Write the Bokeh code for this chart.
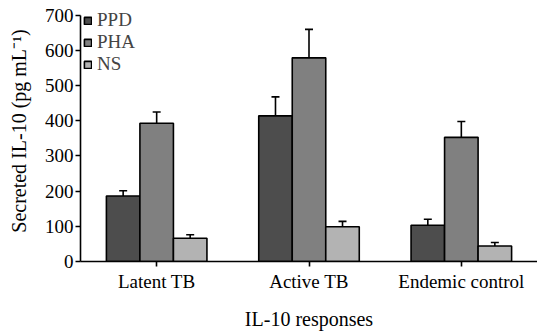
from bokeh.plotting import figure
from bokeh.models import ColumnDataSource, FactorRange, Whisker, TeeHead, Legend, LegendItem
from bokeh.transform import dodge
from bokeh.embed import file_html
from bokeh.resources import INLINE

groups = ["Latent TB", "Active TB", "Endemic control"]
series = ["PPD", "PHA", "NS"]
ppd = [186, 414, 103]
ppd_err = [15, 54, 17]
pha = [393, 579, 353]
pha_err = [32, 81, 45]
ns = [66, 99, 44]
ns_err = [10, 15, 10]
colors = ["#4d4d4d", "#808080", "#b3b3b3"]
y_ticks = [0, 100, 200, 300, 400, 500, 600, 700]

FONT = "Liberation Serif"

p = figure(width=537, height=332, x_range=FactorRange(factors=groups, range_padding=0),
           y_range=(0, 742), output_backend="svg", toolbar_location=None,
           min_border_left=80, min_border_right=0, min_border_top=0, min_border_bottom=69)
p.outline_line_color = None
p.grid.visible = False

bw = 0.22
offsets = [-bw, 0.0, bw]
vals = [ppd, pha, ns]
errs = [ppd_err, pha_err, ns_err]
renderers = []
for name, off, v, e, c in zip(series, offsets, vals, errs, colors):
    src = ColumnDataSource(dict(x=groups, top=v, upper=[a + b for a, b in zip(v, e)]))
    w = Whisker(base=dodge("x", off, range=p.x_range), lower="top", upper="upper", source=src,
                line_color="black", line_width=1.6,
                upper_head=TeeHead(size=8, line_color="black", line_width=1.6), lower_head=None)
    p.add_layout(w)
    r = p.vbar(x=dodge("x", off, range=p.x_range), top="top", width=bw, source=src,
               fill_color=c, line_color="black", line_width=1.6)
    renderers.append((name, r))

legend = Legend(items=[LegendItem(label=n, renderers=[r]) for n, r in renderers],
                location=(3, 186), background_fill_alpha=0, border_line_color=None,
                label_text_font=FONT, label_text_font_size="19px", glyph_width=9, glyph_height=9,
                spacing=0, padding=0, margin=0, label_standoff=5, label_height=21,
                label_text_baseline="middle")
p.add_layout(legend)

for ax in (p.xaxis[0], p.yaxis[0]):
    ax.axis_line_color = "black"
    ax.axis_line_width = 1.6
    ax.major_tick_line_color = "black"
    ax.major_tick_line_width = 1.6
    ax.major_tick_in = 0
    ax.major_tick_out = 5
    ax.minor_tick_line_color = None
    ax.major_label_text_font = FONT
    ax.major_label_text_font_size = "19px"
    ax.major_label_text_color = "black"
    ax.axis_label_text_font = FONT
    ax.axis_label_text_font_size = "20px"
    ax.axis_label_text_font_style = "normal"
    ax.axis_label_text_color = "black"

p.yaxis.ticker = y_ticks
p.yaxis.bounds = (0, 700)
p.yaxis.major_label_standoff = 2
p.yaxis.axis_label = "Secreted IL-10 (pg mL⁻¹)"
p.yaxis.axis_label_standoff = 12
p.xaxis.major_label_standoff = 4
p.xaxis.axis_label = "IL-10 responses"
p.xaxis.axis_label_standoff = 13

open("out.html", "w").write(file_html(p, INLINE))
